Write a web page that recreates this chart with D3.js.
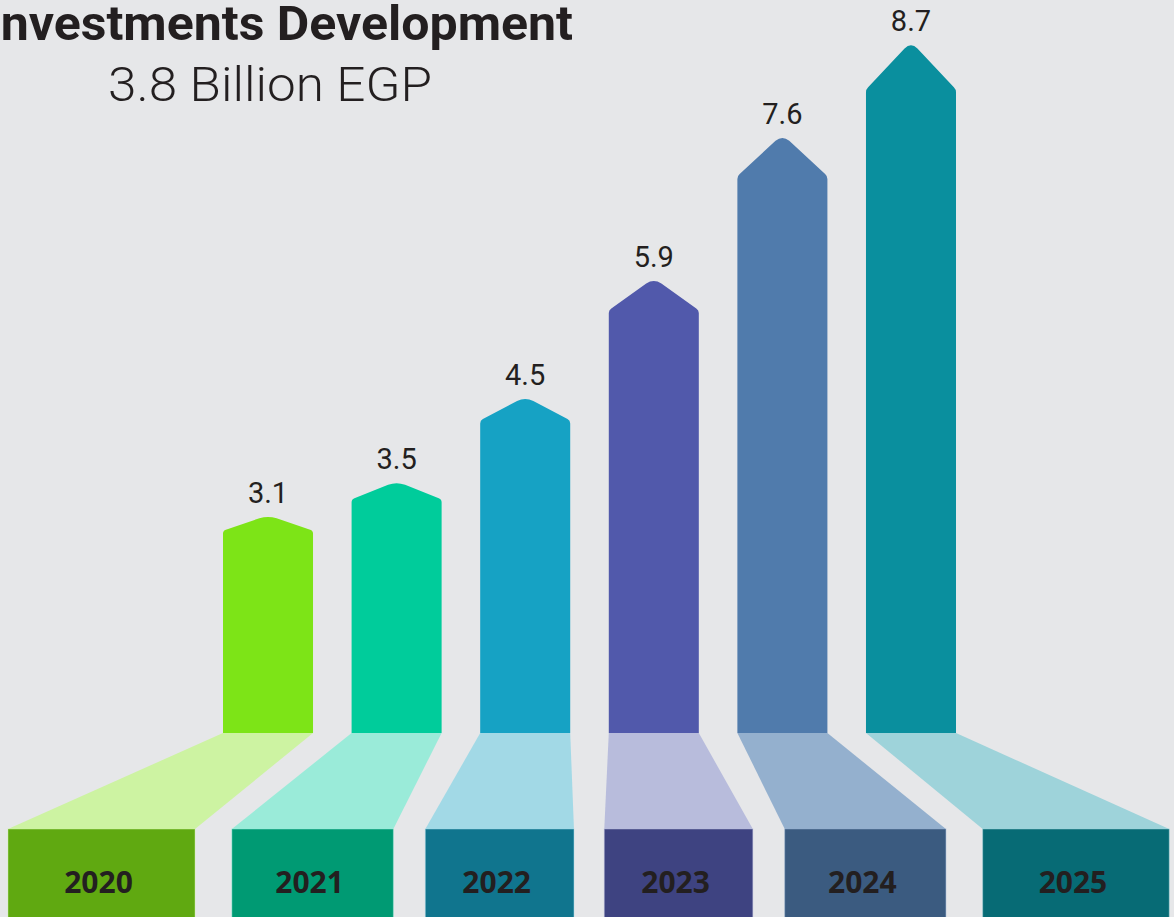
<!DOCTYPE html>
<html>
<head>
<meta charset="utf-8">
<script src="https://cdn.jsdelivr.net/npm/d3@7"></script>
<style>
  html, body { margin: 0; padding: 0; background: #e6e7e9; }
  svg { display: block; }
</style>
</head>
<body>
<svg id="chart" width="1174" height="917"></svg>
<script>
// ---- data ----
const years = ["2020", "2021", "2022", "2023", "2024", "2025"];
const values = [3.1, 3.5, 4.5, 5.9, 7.6, 8.7];
const valueLabels = ["3.1", "3.5", "4.5", "5.9", "7.6", "8.7"];
const titleText = "Investments Development";
const subtitleText = "3.8 Billion EGP";

// ---- colours ----
const barColors  = ["#7de417", "#00cc9b", "#16a2c4", "#5159ab", "#507bac", "#0a8f9e"];
const trapColors = ["#cdf3a2", "#9aebd9", "#a2d9e6", "#b8bcdc", "#94b0ce", "#9ed3da"];
const boxColors  = ["#60a911", "#009a73", "#10758e", "#3e4381", "#3b5b80", "#076b75"];
const textColor = "#231f20";

const W = 1174, H = 917;
const baseY = 733, boxTop = 829;

const svg = d3.select("#chart");

const x = d3.scaleBand().domain(years).range([223, 956]).paddingInner(0.3).paddingOuter(0);
const y = d3.scaleLinear().domain([0, 9]).range([778, 20]);

const data = years.map((yr, i) => ({ year: yr, value: values[i], label: valueLabels[i], i }));

// fan-out layout of the base boxes, derived from the band scale
const mid = (x.range()[0] + x.range()[1]) / 2 + 1;
const maxOff = d3.max(data, d => Math.abs(x(d.year) + x.bandwidth() / 2 - mid));
function boxGeom(d) {
  const bc = x(d.year) + x.bandwidth() / 2;
  const t = (bc - mid) / maxOff;
  const cx = mid + 447 * t + 42 * t * t * t;
  const w = 147 + 40 * t * t;
  return { cx, x0: cx - w / 2, x1: cx + w / 2 };
}

// trapezoids
svg.append("g").selectAll("path").data(data).join("path")
  .attr("d", d => {
    const b = boxGeom(d);
    const bx0 = x(d.year), bx1 = bx0 + x.bandwidth();
    return `M${bx0},${baseY}L${bx1},${baseY}L${b.x1},${boxTop}L${b.x0},${boxTop}Z`;
  })
  .attr("fill", d => trapColors[d.i]);

// boxes
svg.append("g").selectAll("rect").data(data).join("rect")
  .attr("x", d => boxGeom(d).x0)
  .attr("y", boxTop)
  .attr("width", d => boxGeom(d).x1 - boxGeom(d).x0)
  .attr("height", H - boxTop + 5)
  .attr("fill", d => boxColors[d.i])
  .attr("stroke", d => trapColors[d.i])
  .attr("stroke-opacity", 0.45)
  .attr("stroke-width", 1);

// year labels
svg.append("g").selectAll("text").data(data).join("text")
  .attr("x", d => boxGeom(d).cx - 3)
  .attr("y", 893)
  .attr("text-anchor", "middle")
  .attr("font-family", "'Noto Sans', 'Open Sans', sans-serif")
  .attr("font-weight", 700)
  .attr("font-size", 30)
  .attr("fill", textColor)
  .text(d => d.year);

// arrow bars
function arrowPath(d) {
  const x0 = x(d.year), x1 = x0 + x.bandwidth(), cx = (x0 + x1) / 2;
  const tipY = y(d.value);
  const ah = 0.064 * (baseY - tipY);
  const sh = tipY + ah;
  const half = (x1 - x0) / 2;
  const len = Math.hypot(half, ah);
  const ux = half / len, uy = ah / len;
  const r = 9, rs = 3;
  const tY = tipY - r * uy * 0.5;
  return [
    `M${x0},${baseY}`,
    `L${x0},${sh + rs}`,
    `Q${x0},${sh} ${x0 + rs * ux},${sh - rs * uy}`,
    `L${cx - r * ux},${tY + r * uy}`,
    `Q${cx},${tY} ${cx + r * ux},${tY + r * uy}`,
    `L${x1 - rs * ux},${sh - rs * uy}`,
    `Q${x1},${sh} ${x1},${sh + rs}`,
    `L${x1},${baseY}Z`
  ].join("");
}
svg.append("g").selectAll("path").data(data).join("path")
  .attr("d", arrowPath)
  .attr("fill", d => barColors[d.i]);

// value labels
svg.append("g").selectAll("text").data(data).join("text")
  .attr("x", d => x(d.year) + x.bandwidth() / 2)
  .attr("y", d => y(d.value) - 14)
  .attr("text-anchor", "middle")
  .attr("font-family", "Roboto, sans-serif")
  .attr("font-weight", 400)
  .attr("font-size", 29)
  .attr("fill", textColor)
  .text(d => d.label);

// title (left edge cut off as in the reference)
svg.append("text")
  .attr("x", 279.5).attr("y", 40)
  .attr("text-anchor", "middle")
  .attr("font-family", "Roboto, sans-serif")
  .attr("font-weight", 700)
  .attr("font-size", 49)
  .attr("textLength", 587)
  .attr("lengthAdjust", "spacingAndGlyphs")
  .attr("fill", textColor)
  .text(titleText);

svg.append("text")
  .attr("x", 270).attr("y", 101)
  .attr("text-anchor", "middle")
  .attr("font-family", "Roboto, sans-serif")
  .attr("font-weight", 300)
  .attr("font-size", 48)
  .attr("textLength", 324)
  .attr("lengthAdjust", "spacingAndGlyphs")
  .attr("fill", textColor)
  .text(subtitleText);
</script>
</body>
</html>
